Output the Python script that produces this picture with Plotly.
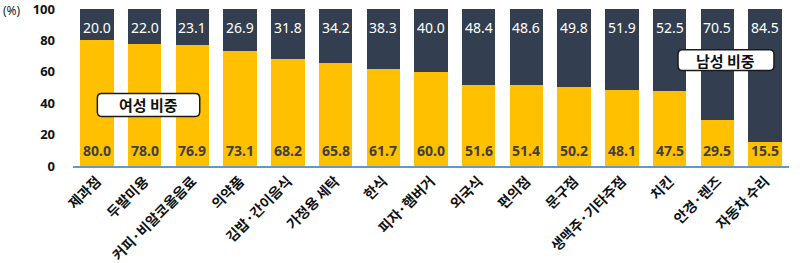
import plotly.graph_objects as go

categories = ["제과점", "두발미용", "커피·비알코올음료", "의약품", "김밥·간이음식", "가정용 세탁", "한식",
              "피자·햄버거", "외국식", "편의점", "문구점", "생맥주·기타주점", "치킨", "안경·렌즈", "자동차 수리"]
female = [80.0, 78.0, 76.9, 73.1, 68.2, 65.8, 61.7, 60.0, 51.6, 51.4, 50.2, 48.1, 47.5, 29.5, 15.5]
male = [20.0, 22.0, 23.1, 26.9, 31.8, 34.2, 38.3, 40.0, 48.4, 48.6, 49.8, 51.9, 52.5, 70.5, 84.5]
y_ticks = [0, 20, 40, 60, 80, 100]

FONT = "Noto Sans CJK KR"
NUMFONT = "Noto Sans"
YELLOW = "#FFC000"
NAVY = "#333F50"

fig = go.Figure()
fig.add_trace(go.Bar(x=categories, y=female, marker=dict(color=YELLOW, line=dict(width=0)), name="여성"))
fig.add_trace(go.Bar(x=categories, y=male, marker=dict(color=NAVY, line=dict(width=0)), name="남성"))

annotations = []
for c, f, m in zip(categories, female, male):
    annotations.append(dict(x=c, y=10, text=f"<b>{f:.1f}</b>", showarrow=False,
                            font=dict(family=NUMFONT, size=14, color="#404040"), xref="x", yref="y"))
    annotations.append(dict(x=c, y=88.5, text=f"{m:.1f}", showarrow=False,
                            font=dict(family=NUMFONT, size=14, color="white"), xref="x", yref="y"))

annotations.append(dict(x=0, y=1.0, xref="paper", yref="paper", xshift=-72, yshift=-1, text="(%)", showarrow=False,
                        xanchor="left", yanchor="middle", font=dict(family=NUMFONT, size=12, color="#222")))


def rounded_box(x0, y0, x1, y1, rx, ry):
    return (f"M {x0+rx},{y0} L {x1-rx},{y0} Q {x1},{y0} {x1},{y0+ry} L {x1},{y1-ry} "
            f"Q {x1},{y1} {x1-rx},{y1} L {x0+rx},{y1} Q {x0},{y1} {x0},{y1-ry} "
            f"L {x0},{y0+ry} Q {x0},{y0} {x0+rx},{y0} Z")


boxes = [((0.034, 0.316, 0.177, 0.462), "여성 비중"), ((0.845, 0.608, 0.979, 0.741), "남성 비중")]
shapes = []
for (x0, y0, x1, y1), label in boxes:
    shapes.append(dict(type="path", xref="paper", yref="paper", path=rounded_box(x0, y0, x1, y1, 0.006, 0.03),
                       fillcolor="white", line=dict(color="#1a1a1a", width=1.5)))
    annotations.append(dict(x=(x0 + x1) / 2, y=(y0 + y1) / 2, xref="paper", yref="paper",
                            xanchor="center", yanchor="middle",
                            text=f"<b>{label}</b>", showarrow=False, font=dict(family=FONT, size=15, color="#111")))

fig.update_layout(
    width=800, height=263,
    margin=dict(l=73, r=11, t=9, b=97),
    barmode="stack", bargap=0.3,
    plot_bgcolor="white", paper_bgcolor="white",
    showlegend=False,
    annotations=annotations, shapes=shapes,
    font=dict(family=FONT),
)
fig.update_xaxes(tickangle=-45, showgrid=False, showline=True, linecolor="#5B9BD5", linewidth=1.5,
                 ticks="", tickfont=dict(family=FONT, size=14, color="#111"), automargin=False,
                 tickvals=categories, ticktext=[f"<b>{c}</b>" for c in categories])
fig.update_yaxes(range=[0, 100], tickvals=y_ticks, ticktext=[f"<b>{t}</b>" for t in y_ticks], showgrid=False,
                 zeroline=False, showline=False, tickfont=dict(family=NUMFONT, size=13, color="#111"),
                 ticklabelstandoff=17, ticklabeloverflow="allow", automargin=False)

fig.write_html("out.html")
